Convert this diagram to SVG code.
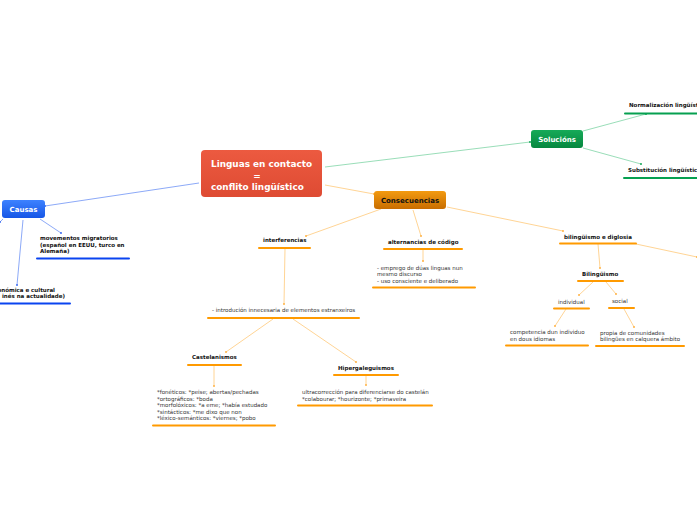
<svg xmlns="http://www.w3.org/2000/svg" width="697" height="520" viewBox="0 0 697 520">
<defs>
<linearGradient id="gRed" x1="0" y1="0" x2="0" y2="1"><stop offset="0" stop-color="#ec5a40"/><stop offset="1" stop-color="#de4b33"/></linearGradient>
<linearGradient id="gBlue" x1="0" y1="0" x2="0" y2="1"><stop offset="0" stop-color="#3d82ff"/><stop offset="1" stop-color="#1656e6"/></linearGradient>
<linearGradient id="gOrange" x1="0" y1="0" x2="0" y2="1"><stop offset="0" stop-color="#f39a10"/><stop offset="1" stop-color="#c86d00"/></linearGradient>
<linearGradient id="gGreen" x1="0" y1="0" x2="0" y2="1"><stop offset="0" stop-color="#16aa58"/><stop offset="1" stop-color="#06873f"/></linearGradient>
<marker id="dO" markerWidth="4" markerHeight="4" refX="2" refY="2" markerUnits="userSpaceOnUse"><circle cx="2" cy="2" r="1" fill="#ffb347"/></marker>
<marker id="dB" markerWidth="4" markerHeight="4" refX="2" refY="2" markerUnits="userSpaceOnUse"><circle cx="2" cy="2" r="1" fill="#3d6cf0"/></marker>
<marker id="dG" markerWidth="4" markerHeight="4" refX="2" refY="2" markerUnits="userSpaceOnUse"><circle cx="2" cy="2" r="1" fill="#17a85a"/></marker>
</defs>
<style>
text{font-family:"DejaVu Sans","Verdana",sans-serif;}
.t{font-size:5.5px;fill:#333;}
.tb{font-size:5.5px;font-weight:bold;fill:#111;}
.uo{stroke:#ff9a00;stroke-width:2;stroke-linecap:round;}
.ub{stroke:#0a44f0;stroke-width:2;stroke-linecap:round;}
.ug{stroke:#06a050;stroke-width:2;stroke-linecap:round;}
.co{stroke:#ffc97a;stroke-width:0.8;fill:none;marker-end:url(#dO);}
.cb{stroke:#6f93f5;stroke-width:0.8;fill:none;marker-end:url(#dB);}
.cg{stroke:#7fd4a6;stroke-width:0.8;fill:none;marker-end:url(#dG);}
.main{font-size:8.9px;font-weight:bold;fill:#fff;}
.n{font-size:7px;font-weight:bold;}
</style>
<rect width="697" height="520" fill="#ffffff"/>
<g id="connectors">
<line class="cb" x1="199" y1="183" x2="45" y2="206"/>
<line class="cg" x1="325" y1="167" x2="530" y2="142"/>
<line class="co" x1="325" y1="185" x2="374" y2="194"/>
<line class="cb" x1="40" y1="219" x2="61" y2="233"/>
<line class="cb" x1="23" y1="220" x2="17" y2="285"/>
<line class="cb" x1="3" y1="219" x2="0" y2="222"/>
<line class="cg" x1="583" y1="131" x2="646" y2="114"/>
<line class="cg" x1="583" y1="148" x2="641" y2="164"/>
<line class="co" x1="381" y1="209" x2="306" y2="236"/>
<line class="co" x1="413" y1="210" x2="421" y2="236"/>
<line class="co" x1="447" y1="207" x2="563" y2="231"/>
<line class="co" x1="636" y1="244" x2="697" y2="257"/>
<line class="co" x1="285" y1="249" x2="284" y2="304"/>
<line class="co" x1="273" y1="319" x2="226" y2="352"/>
<line class="co" x1="293" y1="319" x2="356" y2="362"/>
<line class="co" x1="214" y1="366" x2="214" y2="386"/>
<line class="co" x1="366" y1="376" x2="366" y2="385"/>
<line class="co" x1="423" y1="250" x2="423" y2="261"/>
<line class="co" x1="598" y1="244" x2="600" y2="268"/>
<line class="co" x1="593" y1="282" x2="579" y2="295"/>
<line class="co" x1="606" y1="282" x2="616" y2="294"/>
<line class="co" x1="566" y1="309" x2="555" y2="326"/>
<line class="co" x1="624" y1="309" x2="634" y2="327"/>
</g>
<g id="central">
<rect x="201" y="150" width="121" height="47" rx="4" fill="url(#gRed)"/>
<text class="main" x="211" y="167">Linguas en contacto</text>
<text class="main" x="257" y="179" text-anchor="middle">=</text>
<text class="main" x="211" y="189.5">conflito lingüístico</text>
</g>
<g id="causas">
<rect x="2" y="200" width="43" height="18" rx="3" fill="url(#gBlue)"/>
<text class="n" x="23.5" y="212" text-anchor="middle" fill="#fff">Causas</text>
</g>
<g id="consecuencias">
<rect x="374" y="191" width="72" height="18" rx="3" fill="url(#gOrange)"/>
<text class="n" x="410" y="203" text-anchor="middle" fill="#111">Consecuencias</text>
</g>
<g id="solucions">
<rect x="531" y="130" width="52" height="18" rx="3" fill="url(#gGreen)"/>
<text class="n" x="557" y="142" text-anchor="middle" fill="#fff">Solucións</text>
</g>
<g id="movementos">
<text class="tb" x="40" y="240">movementos migratorios</text>
<text class="tb" x="40" y="246.5">(español en EEUU, turco en</text>
<text class="tb" x="40" y="253">Alemaña)</text>
<line class="ub" x1="37" y1="258.5" x2="129" y2="258.5"/>
</g>
<g id="economica">
<text class="tb" x="55" y="291.5" text-anchor="end">onómica e cultural</text>
<text class="tb" x="65" y="298" text-anchor="end">inés na actualidade)</text>
<line class="ub" x1="0" y1="303.5" x2="70" y2="303.5"/>
</g>
<g id="normalizacion">
<text class="tb" x="629" y="107">Normalización lingüística</text>
<line class="ug" x1="625" y1="113.5" x2="697" y2="113.5"/>
</g>
<g id="substitucion">
<text class="tb" x="628" y="172">Substitución lingüística</text>
<line class="ug" x1="624" y1="178" x2="697" y2="178"/>
</g>
<g id="interferencias">
<text class="tb" x="263" y="242">interferencias</text>
<line class="uo" x1="259" y1="248" x2="310" y2="248"/>
</g>
<g id="introducion">
<text class="t" x="212" y="312">- introdución innecesaria de elementos estranxeiros</text>
<line class="uo" x1="208" y1="318" x2="359" y2="318"/>
</g>
<g id="castelanismos">
<text class="tb" x="192" y="359">Castelanismos</text>
<line class="uo" x1="188" y1="365" x2="241" y2="365"/>
</g>
<g id="castelanismos-lista">
<text class="t" x="157" y="394">*fonéticos: *peise; abertas/pechadas</text>
<text class="t" x="157" y="400.5">*ortográficos: *boda</text>
<text class="t" x="157" y="407">*morfolóxicos: *a eme; *había estudado</text>
<text class="t" x="157" y="413.5">*sintácticos: *me dixo que non</text>
<text class="t" x="157" y="420">*léxico-semánticos: *viernes; *pobo</text>
<line class="uo" x1="153" y1="425.5" x2="275" y2="425.5"/>
</g>
<g id="hipergaleguismos">
<text class="tb" x="338" y="369.5">Hipergaleguismos</text>
<line class="uo" x1="334" y1="375" x2="398" y2="375"/>
</g>
<g id="hiper-texto">
<text class="t" x="302" y="393.5">ultracorrección para diferenciarse do castelán</text>
<text class="t" x="302" y="400.5">*colabourar; *hourizonte; *primaveira</text>
<line class="uo" x1="298" y1="405.5" x2="432" y2="405.5"/>
</g>
<g id="alternancias">
<text class="tb" x="388" y="243.5">alternancias de código</text>
<line class="uo" x1="384" y1="249" x2="462" y2="249"/>
</g>
<g id="alternancias-texto">
<text class="t" x="377" y="269.5">- emprego de dúas linguas nun</text>
<text class="t" x="377" y="276">mesmo discurso</text>
<text class="t" x="377" y="282.5">- uso consciente e deliberado</text>
<line class="uo" x1="373" y1="287.5" x2="475" y2="287.5"/>
</g>
<g id="bilinguismo-diglosia">
<text class="tb" x="564" y="238.5">bilingüismo e diglosia</text>
<line class="uo" x1="560" y1="243.5" x2="636" y2="243.5"/>
</g>
<g id="bilinguismo">
<text class="tb" x="582" y="275.5">Bilingüismo</text>
<line class="uo" x1="578" y1="281" x2="623" y2="281"/>
</g>
<g id="individual">
<text class="t" x="558" y="303.5">individual</text>
<line class="uo" x1="554" y1="308.5" x2="589" y2="308.5"/>
</g>
<g id="social">
<text class="t" x="612" y="302.5">social</text>
<line class="uo" x1="609" y1="308" x2="634" y2="308"/>
</g>
<g id="competencia">
<text class="t" x="510" y="333.5">competencia dun individuo</text>
<text class="t" x="510" y="340.5">en dous idiomas</text>
<line class="uo" x1="506" y1="345.5" x2="588" y2="345.5"/>
</g>
<g id="propia">
<text class="t" x="600" y="334.5">propia de comunidades</text>
<text class="t" x="600" y="341">bilingües en calquera ámbito</text>
<line class="uo" x1="596" y1="346" x2="684" y2="346"/>
</g>
</svg>
